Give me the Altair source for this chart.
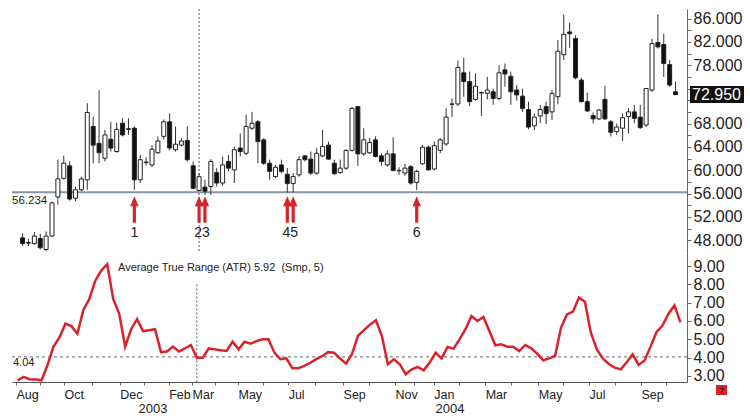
import altair as alt
import pandas as pd

# ---------------- data (weekly candles) ----------------
opens = [48.4, 47.6, 47.4, 48.3, 46.4, 48.7, 55.4, 58.6, 60.75, 55.2,
         56.65, 58.35, 67.5, 64.6, 62.05, 65.3, 63.2, 68.05, 67.1, 67.2,
         58.35, 61.3, 60.9, 63.0, 65.8, 68.3, 63.5, 64.3, 65.1, 60.75,
         56.5, 57.1, 57.2, 59.6, 57.8, 61.5, 60.05, 63.8, 62.9, 67.2,
         68.3, 65.2, 61.2, 58.9, 60.9, 59.3, 57.7, 59.2, 62.45, 61.9,
         59.5, 62.45, 64.3, 61.2, 59.6, 60.35, 63.4, 70.9, 62.8, 63.0,
         65.2, 62.45, 60.9, 62.8, 59.9, 59.5, 60.6, 57.9, 61.1, 63.95,
         60.2, 63.4, 64.5, 71.3, 71.35, 76.7, 75.2, 72.15, 73.3, 73.2,
         73.45, 72.3, 77.2, 76.1, 73.75, 72.7, 70.4, 67.6, 69.3, 70.9,
         70.0, 72.6, 79.8, 83.7, 82.57, 75.45, 71.75, 69.35, 68.8, 72.15,
         68.3, 66.6, 67.2, 69.2, 70.0, 69.1, 67.75, 73.74, 81.9, 81.55,
         78.1, 73.45]
highs = [49.2, 48.2, 49.4, 49.1, 49.5, 54.65, 61.8, 62.5, 61.5, 57.2,
         58.9, 71.5, 69.2, 73.7, 66.9, 68.3, 68.15, 68.9, 68.9, 67.5,
         62.6, 62.2, 64.3, 65.8, 68.7, 69.75, 67.5, 65.5, 67.5, 61.5,
         59.5, 58.35, 61.9, 60.35, 62.35, 62.6, 64.05, 66.3, 69.5, 70.0,
         68.6, 65.5, 61.8, 60.9, 61.8, 60.35, 59.5, 62.45, 62.6, 63.2,
         63.8, 66.9, 64.9, 61.8, 61.8, 63.6, 70.8, 71.0, 67.2, 65.5,
         65.8, 62.9, 63.4, 65.65, 60.5, 61.1, 60.9, 60.1, 64.35, 64.2,
         64.9, 65.5, 70.6, 72.3, 78.8, 79.3, 76.9, 76.6, 73.5, 76.0,
         74.0, 78.0, 78.3, 76.9, 74.6, 74.0, 71.75, 69.75, 71.2, 71.75,
         73.74, 82.3, 86.7, 85.3, 83.14, 75.85, 73.3, 69.9, 70.5, 74.5,
         68.6, 68.0, 69.75, 70.6, 71.2, 71.2, 74.1, 82.57, 86.7, 83.4,
         78.9, 75.2]
lows = [47.0, 47.0, 47.25, 46.4, 46.1, 48.6, 54.1, 58.4, 54.8, 54.65,
        56.4, 56.65, 61.2, 61.2, 61.5, 63.2, 63.0, 65.8, 66.05, 56.65,
        57.8, 60.8, 60.5, 62.8, 65.3, 63.4, 63.2, 64.05, 61.5, 56.75,
        56.4, 55.8, 55.8, 57.2, 57.35, 59.8, 57.8, 62.35, 62.6, 66.9,
        61.2, 60.9, 58.35, 58.65, 59.5, 56.2, 56.2, 58.9, 61.5, 59.2,
        59.2, 62.2, 61.8, 59.2, 59.4, 60.05, 63.2, 60.75, 62.45, 62.8,
        62.2, 60.75, 60.6, 59.8, 59.2, 59.05, 57.5, 56.6, 60.9, 59.95,
        59.95, 62.9, 64.2, 69.1, 71.0, 72.6, 71.0, 71.9, 69.3, 72.15,
        71.2, 72.0, 74.3, 71.2, 71.9, 70.0, 67.0, 66.9, 68.05, 67.9,
        68.6, 71.3, 78.9, 80.98, 75.6, 71.6, 70.0, 68.04, 68.6, 68.6,
        65.8, 66.05, 65.0, 66.3, 68.04, 67.07, 67.4, 73.45, 80.86, 76.0,
        74.3, 72.9]
closes = [47.4, 47.5, 48.7, 46.7, 48.7, 54.4, 58.5, 61.2, 55.05, 56.65,
          58.5, 69.9, 64.3, 63.0, 66.05, 63.8, 67.0, 66.05, 67.0, 58.35,
          61.8, 61.4, 63.6, 65.0, 68.3, 63.8, 64.45, 65.0, 61.8, 56.9,
          58.9, 56.4, 61.5, 57.8, 60.9, 60.35, 63.5, 63.2, 67.5, 68.05,
          64.9, 61.2, 59.8, 60.5, 59.8, 57.7, 58.9, 61.8, 61.8, 59.5,
          62.9, 64.05, 61.9, 59.4, 60.35, 63.4, 70.6, 62.8, 65.2, 64.75,
          62.35, 61.5, 62.8, 59.95, 59.95, 60.35, 57.8, 59.8, 63.95, 60.05,
          64.2, 65.2, 69.1, 71.35, 77.6, 75.2, 71.75, 74.4, 73.25, 73.75,
          72.3, 76.7, 76.5, 73.45, 72.9, 70.6, 67.4, 69.1, 70.4, 69.7,
          73.17, 80.4, 83.3, 83.4, 75.85, 71.75, 70.15, 68.8, 70.3, 68.8,
          66.5, 67.4, 69.0, 70.0, 68.9, 67.3, 74.0, 81.7, 81.15, 78.3,
          74.6, 72.95]
atr = [2.76, 2.95, 2.82, 2.80, 2.76, 3.6, 4.6, 5.1, 5.85, 5.72,
       5.3, 6.6, 7.2, 8.2, 8.75, 9.1, 7.2, 6.4, 4.6, 5.55,
       6.1, 5.45, 5.5, 5.55, 4.3, 4.33, 4.6, 4.33, 4.5, 4.69,
       4.0, 4.0, 4.5, 4.45, 4.4, 4.36, 4.87, 4.45, 4.87, 4.76,
       4.9, 5.0, 5.0, 4.27, 3.91, 3.96, 3.42, 3.42, 3.55, 3.72,
       3.92, 4.08, 4.3, 4.27, 3.95, 3.67, 4.2, 5.2, 5.5, 5.8,
       6.04, 5.18, 3.64, 3.91, 3.64, 3.09, 3.36, 3.49, 3.31, 3.73,
       4.27, 3.96, 4.58, 4.49, 5.0, 5.55, 6.27, 6.0, 6.22, 5.45,
       4.67, 4.73, 4.6, 4.6, 4.36, 4.69, 4.51, 4.22, 3.85, 3.96,
       4.09, 5.64, 6.36, 6.51, 7.27, 7.05, 5.36, 4.45, 3.95, 3.65,
       3.45, 3.36, 3.75, 4.18, 3.6, 3.85, 4.6, 5.4, 5.75, 6.4,
       6.85, 5.92]

support_level = 56.234
atr_ref = 4.04
last_price = 72.95
cursor_index = 30

arrow_index = [19, 30, 31, 45, 46, 67]
arrow_label_text = ["1", "23", "45", "6"]
arrow_label_index = [19, 30.5, 45.5, 67]

month_pos = [-0.28, 3.7, 7.76, 12.4, 17.1, 21.2, 25.3, 29.2, 33.0, 36.9, 41.1, 45.3,
             49.8, 54.5, 58.8, 63.2, 66.4, 69.7, 73.9, 78.3, 82.6, 87.2, 91.4, 95.7,
             100.0, 104.4, 108.6]
month_text = ["Aug", "", "Oct", "", "Dec", "", "Feb", "Mar", "", "May", "", "Jul",
              "", "Sep", "", "Nov", "", "Jan", "", "Mar", "", "May", "", "Jul",
              "", "Sep", ""]
year_text = ["2003", "2004"]
year_pos = [22.66, 72.4]

price_ticks = list(range(48, 88, 2))
price_labels = [48, 52, 56, 60, 64, 68, 78, 82, 86]
atr_ticks = [3, 4, 5, 6, 7, 8, 9]

# ---------------- tables ----------------
n = len(opens)
df = pd.DataFrame({"i": list(range(n)), "open": opens, "high": highs,
                   "low": lows, "close": closes})
df["dir"] = ["up" if c >= o else "down" for o, c in zip(opens, closes)]
atr_df = pd.DataFrame({"i": list(range(n)), "atr": atr})

FONT = "Liberation Sans"
RED = "#d8232a"
W, H1, H2 = 675, 244, 129
xs = alt.Scale(domain=[-0.95, 112.1], nice=False, zero=False)
ps = alt.Scale(domain=[45.80, 87.64], nice=False, zero=False)
as_ = alt.Scale(domain=[2.67, 9.71], nice=False, zero=False)

price_axis = alt.Axis(
    orient="right", values=price_ticks, title=None, grid=False,
    labelExpr="indexof(" + str(price_labels) + ", datum.value) >= 0 ? format(datum.value, '.3f') : ''",
    labelFontSize=16, labelFont=FONT, labelColor="#222", labelOverlap=False,
    labelFlush=False, labelBound=False, labelPadding=2,
    tickSize=4, tickColor="#666", domainColor="#666",
)
atr_axis = alt.Axis(
    orient="right", values=atr_ticks, title=None, grid=False, format=".2f",
    labelFontSize=16, labelFont=FONT, labelColor="#222", labelOverlap=False,
    labelFlush=False, labelBound=False, labelPadding=2,
    tickSize=4, tickColor="#666", domainColor="#666",
)
month_axis = alt.Axis(
    values=month_pos, title=None, grid=False,
    labelExpr="" + str(month_text) + "[indexof(" + str(month_pos) + ", datum.value)]",
    labelAlign="left", labelFontSize=12.5, labelFont=FONT, labelColor="#222",
    labelOverlap=False, labelFlush=False, labelBound=False, labelPadding=3,
    tickSize=3, tickColor="#666", domainColor="#555",
)


def PX(f):
    return alt.X(f, scale=xs, axis=None, title=None)


def PY(f):
    return alt.Y(f, scale=ps, axis=price_axis, title=None)


def AX(f):
    return alt.X(f, scale=xs, axis=month_axis, title=None)


def AY(f):
    return alt.Y(f, scale=as_, axis=atr_axis, title=None)


# ---------------- upper panel ----------------
base = alt.Chart(df)
wicks = base.mark_rule(color="#333", strokeWidth=1).encode(
    x=PX("i:Q"), y=PY("low:Q"), y2="high:Q")
bodies = base.mark_bar(size=4, stroke="#222", strokeWidth=1).encode(
    x=PX("i:Q"), y=PY("open:Q"), y2="close:Q",
    fill=alt.Fill("dir:N", scale=alt.Scale(domain=["up", "down"], range=["#ffffff", "#111111"]),
                  legend=None))

sup_df = pd.DataFrame({"y": [support_level], "lab": [f"{support_level:.3f}"], "ly": [54.72]})
support = alt.Chart(sup_df).mark_rule(color="#8595a7", strokeWidth=2).encode(y=PY("y:Q"))
support_txt = alt.Chart(sup_df).mark_text(
    align="left", baseline="middle", fontSize=11.5, font=FONT, color="#222"
).encode(x=alt.value(0), y=PY("ly:Q"), text="lab:N")

cur_df = pd.DataFrame({"x": [cursor_index], "y1": [8.0], "y2": [2.67]})
cursor_up = alt.Chart(cur_df).mark_rule(color="#555", strokeDash=[2, 2], strokeWidth=1).encode(
    x=PX("x:Q"))

arr_df = pd.DataFrame({"i": arrow_index, "top": [54.2] * len(arrow_index),
                       "bot": [51.0] * len(arrow_index), "head": [54.69] * len(arrow_index)})
shafts = alt.Chart(arr_df).mark_rule(color=RED, strokeWidth=3.2).encode(
    x=PX("i:Q"), y=PY("top:Q"), y2="bot:Q")
heads = alt.Chart(arr_df).mark_point(
    shape="M0,-1L0.85,1L-0.85,1Z", filled=True, size=100, color=RED, opacity=1
).encode(x=PX("i:Q"), y=PY("head:Q"))
al_df = pd.DataFrame({"i": arrow_label_index, "t": arrow_label_text, "y": [49.23] * 4})
arrow_txt = alt.Chart(al_df).mark_text(
    fontSize=14, font=FONT, color="#222", baseline="middle").encode(
    x=PX("i:Q"), y=PY("y:Q"), text="t:N")

lp_df = pd.DataFrame({"p": [last_price], "t": [f"{last_price:.3f}"], "a": [74.43], "b": [71.52]})
lp_box = alt.Chart(lp_df).mark_rect(color="#111").encode(
    x=alt.value(678), x2=alt.value(732), y=PY("a:Q"), y2="b:Q")
lp_txt = alt.Chart(lp_df).mark_text(
    align="left", baseline="middle", fontSize=16, font=FONT, color="#ffffff").encode(
    x=alt.value(680), y=PY("p:Q"), text="t:N")

upper = alt.layer(support, cursor_up, wicks, bodies, shafts, heads, arrow_txt,
                  support_txt, lp_box, lp_txt).properties(width=W, height=H1)

# ---------------- lower panel ----------------
ref_df = pd.DataFrame({"y": [atr_ref], "t": [f"{atr_ref:.2f}"], "ty": [3.71]})
ref_rule = alt.Chart(ref_df).mark_rule(color="#666", strokeDash=[3, 3], strokeWidth=1).encode(
    y=AY("y:Q"))
ref_txt = alt.Chart(ref_df).mark_text(
    align="left", baseline="middle", fontSize=11, font=FONT, color="#222").encode(
    x=alt.value(1), y=AY("ty:Q"), text="t:N")
cursor_lo = alt.Chart(cur_df).mark_rule(color="#555", strokeDash=[2, 2], strokeWidth=1).encode(
    x=AX("x:Q"), y=AY("y1:Q"), y2="y2:Q")
atr_line = alt.Chart(atr_df).mark_line(color=RED, strokeWidth=2.5).encode(
    x=AX("i:Q"), y=AY("atr:Q"))
title_df = pd.DataFrame({"t": [f"Average True Range (ATR) {atr[-1]:.2f}\u00a0 (Smp, 5)"], "y": [8.89]})
atr_title = alt.Chart(title_df).mark_text(
    align="left", baseline="middle", fontSize=11, font=FONT, color="#222").encode(
    x=alt.value(106), y=AY("y:Q"), text="t:N")
yr_df = pd.DataFrame({"i": year_pos, "t": year_text})
years = alt.Chart(yr_df).mark_text(
    baseline="middle", fontSize=13, font=FONT, color="#222").encode(
    x=AX("i:Q"), y=alt.value(156), text="t:N")
badge_df = pd.DataFrame({"t": ["7"]})
badge = alt.Chart(badge_df).mark_rect(color=RED).encode(
    x=alt.value(704), x2=alt.value(715), y=alt.value(132), y2=alt.value(142))
badge_txt = alt.Chart(badge_df).mark_text(
    fontSize=9, font=FONT, color="#3a0000", baseline="middle").encode(
    x=alt.value(709.5), y=alt.value(137.5), text="t:N")

lower = alt.layer(ref_rule, cursor_lo, atr_line, ref_txt, atr_title, years,
                  badge, badge_txt).properties(width=W, height=H2)

chart = alt.vconcat(upper, lower, spacing=0, bounds="flush").properties(
    padding={"left": 11, "top": 8, "right": 0, "bottom": 0},
    background="white",
).configure_view(stroke=None)

chart.save("out.html", embed_options={"renderer": "svg", "actions": False})
